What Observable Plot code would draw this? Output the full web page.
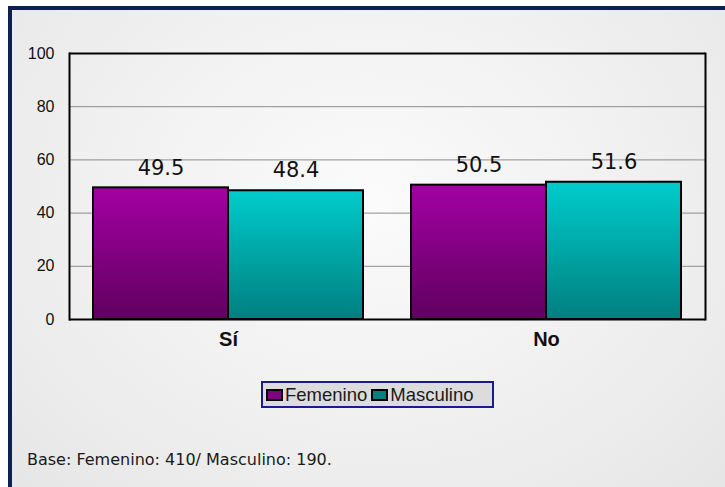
<!DOCTYPE html>
<html><head><meta charset="utf-8">
<script src="https://cdn.jsdelivr.net/npm/d3@7"></script>
<script src="https://cdn.jsdelivr.net/npm/@observablehq/plot@0.6"></script>
<style>
html,body{margin:0;padding:0;background:#fff;}
#page{position:relative;width:725px;height:487px;overflow:hidden;}
#bg{position:absolute;left:8px;top:6px;width:717px;height:481px;box-sizing:border-box;border-left:4px solid #0d2150;border-top:4px solid #0d2150;background:radial-gradient(ellipse at 50% 40%, #fbfbfb 0%, #eeeeee 65%, #e6e6e6 100%);}
#chart{position:absolute;left:0;top:0;}
#legend{position:absolute;left:261px;top:381px;width:233px;height:27px;box-sizing:border-box;border:2px solid #1b1b8f;background:#dcdcdc;display:flex;align-items:center;font:18.5px "Liberation Sans",sans-serif;color:#1a1a1a;padding-left:3px;}
.sw{display:inline-block;width:13px;height:8px;border:2px solid #000;margin-right:2px;}
.item{display:flex;align-items:center;margin-right:4px;}
#caption{position:absolute;left:27px;top:450px;font:16px "DejaVu Sans",sans-serif;color:#1a1a1a;white-space:nowrap;}
</style></head>
<body>
<div id="page">
  <div id="bg"></div>
  <div id="chart"></div>
  <div id="legend"></div>
  <div id="caption"></div>
</div>
<script>
const categories = ["Sí", "No"];
const series = ["Femenino", "Masculino"];
const femenino = [49.5, 50.5];
const masculino = [48.4, 51.6];
const yTicks = [0, 20, 40, 60, 80, 100];
const seriesColors = ["#800080", "#008080"];
const captionText = "Base: Femenino: 410/ Masculino: 190.";

const rows = [];
categories.forEach((c, i) => {
  rows.push({cat: c, sex: series[0], value: femenino[i]});
  rows.push({cat: c, sex: series[1], value: masculino[i]});
});

const defsMark = () => {
  const defs = d3.create("svg:defs");
  const g1 = defs.append("linearGradient").attr("id", "gradF").attr("x1", 0).attr("y1", 0).attr("x2", 0).attr("y2", 1);
  g1.append("stop").attr("offset", "0%").attr("stop-color", "#a300a3");
  g1.append("stop").attr("offset", "100%").attr("stop-color", "#5e005e");
  const g2 = defs.append("linearGradient").attr("id", "gradM").attr("x1", 0).attr("y1", 0).attr("x2", 0).attr("y2", 1);
  g2.append("stop").attr("offset", "0%").attr("stop-color", "#00cccc");
  g2.append("stop").attr("offset", "100%").attr("stop-color", "#007f7f");
  return defs.node();
};

const chart = Plot.plot({
  width: 725,
  height: 360,
  marginLeft: 68,
  marginRight: 20,
  marginTop: 53,
  marginBottom: 41,
  style: {background: "transparent", overflow: "visible"},
  fx: {domain: categories, padding: 0, label: null, axis: null},
  x: {domain: series, paddingInner: 0, paddingOuter: 0.17, axis: null},
  y: {domain: [0, 100], axis: null},
  marks: [
    defsMark,
    Plot.ruleY(yTicks.filter(t => t > 0 && t < 100), {stroke: "#8c8c8c", strokeWidth: 1}),
    Plot.barY(rows.filter(d => d.sex === series[0]), {fx: "cat", x: "sex", y: "value", fill: "url(#gradF)", stroke: "#000", strokeWidth: 2}),
    Plot.barY(rows.filter(d => d.sex === series[1]), {fx: "cat", x: "sex", y: "value", fill: "url(#gradM)", stroke: "#000", strokeWidth: 2}),
    Plot.ruleY([0, 100], {stroke: "#000", strokeWidth: 2}),
    Plot.frame({anchor: "left", facetAnchor: "left", stroke: "#000", strokeWidth: 2}),
    Plot.frame({anchor: "right", facetAnchor: "right", stroke: "#000", strokeWidth: 2}),
    Plot.text(rows, {fx: "cat", x: "sex", y: "value", text: d => d.value.toFixed(1), dy: -20, fontSize: 21, fontFamily: "DejaVu Sans", fill: "#111", style: "letter-spacing:0.5px"}),
    Plot.axisY({anchor: "left", ticks: yTicks, tickSize: 0, tickPadding: 15, fontSize: 16, fontFamily: "Liberation Sans", fill: "#111", label: null}),
    Plot.axisFx({anchor: "bottom", tickSize: 0, tickPadding: 12, fontSize: 20, fontWeight: "bold", fontFamily: "Liberation Sans", fill: "#111", label: null})
  ]
});
document.getElementById("chart").appendChild(chart);

const legend = document.getElementById("legend");
series.forEach((s, i) => {
  const item = document.createElement("span");
  item.className = "item";
  const sw = document.createElement("span");
  sw.className = "sw";
  sw.style.background = seriesColors[i];
  item.appendChild(sw);
  item.appendChild(document.createTextNode(s));
  legend.appendChild(item);
});
document.getElementById("caption").textContent = captionText;
</script>
</body></html>
